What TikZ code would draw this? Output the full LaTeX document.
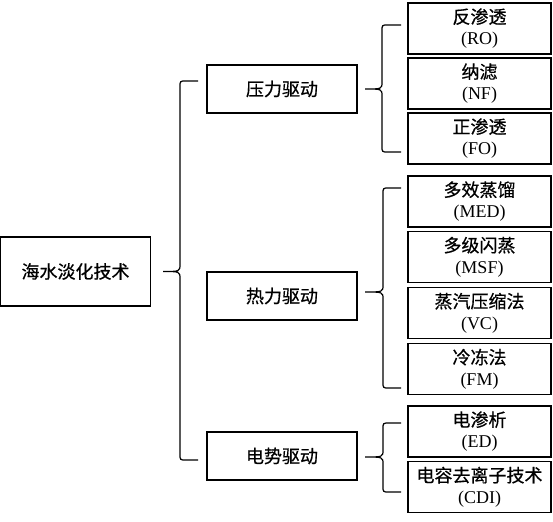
\documentclass[tikz,border=0pt]{standalone}
\usepackage{fontspec}
\setmainfont{Liberation Serif}
\newfontfamily\cjk[FakeBold=0.6]{Noto Sans CJK SC}
\tikzset{
  boxL/.style={draw, line width=1pt, minimum width=112.5pt, minimum height=51.75pt, inner sep=0pt, font=\fontsize{13.5}{16}\selectfont\cjk},
  boxM/.style={draw, line width=1pt, minimum width=112.5pt, minimum height=36pt, inner sep=0pt, font=\fontsize{13.5}{16}\selectfont\cjk},
  boxR/.style={draw, line width=1pt, minimum width=107.25pt, minimum height=38.25pt, inner sep=0pt, align=center, font=\fontsize{13.5}{16}\selectfont},
  brace/.style={line width=0.9pt}
}
\begin{document}
\begin{tikzpicture}[x=0.75pt, y=-0.75pt]
\useasboundingbox (0,0) rectangle (553,521);
\node[boxL] (root) at (75.5,271.5) {海水淡化技术};
\node[boxM] (p) at (282,89) {压力驱动};
\node[boxM] (h) at (282,296) {热力驱动};
\node[boxM] (e) at (282,456) {电势驱动};
\node[boxR] (ro) at (479.5,28.5) {{\cjk 反渗透}\\(RO)};
\node[boxR] (nf) at (479.5,83.5) {{\cjk 纳滤}\\(NF)};
\node[boxR] (fo) at (479.5,138.5) {{\cjk 正渗透}\\(FO)};
\node[boxR] (med) at (479.5,201.5) {{\cjk 多效蒸馏}\\(MED)};
\node[boxR] (msf) at (479.5,257) {{\cjk 多级闪蒸}\\(MSF)};
\node[boxR] (vc) at (479.5,313) {{\cjk 蒸汽压缩法}\\(VC)};
\node[boxR] (fm) at (479.5,369) {{\cjk 冷冻法}\\(FM)};
\node[boxR] (ed) at (479.5,431.5) {{\cjk 电渗析}\\(ED)};
\node[boxR] (cdi) at (479.5,487) {{\cjk 电容去离子技术}\\(CDI)};
% big brace
\draw[brace] (198,81) -- (186,81) .. controls (180,81) .. (180,87) -- (180,264) .. controls (180,271.5) .. (163,271.5)
  .. controls (180,271.5) .. (180,279) -- (180,454) .. controls (180,460) .. (186,460) -- (198,460);
% pressure brace
\draw[brace] (401,25) -- (388,25) .. controls (382,25) .. (382,31) -- (382,82) .. controls (382,89) .. (365,89)
  .. controls (382,89) .. (382,96) -- (382,146) .. controls (382,152) .. (388,152) -- (401,152);
% heat brace
\draw[brace] (401,188) -- (389,188) .. controls (383,188) .. (383,194) -- (383,285) .. controls (383,292) .. (365,292)
  .. controls (383,292) .. (383,299) -- (383,382) .. controls (383,388) .. (389,388) -- (401,388);
% electric brace
\draw[brace] (401,423) -- (389,423) .. controls (383,423) .. (383,429) -- (383,450) .. controls (383,457) .. (365,457)
  .. controls (383,457) .. (383,464) -- (383,486) .. controls (383,492) .. (389,492) -- (401,492);
\end{tikzpicture}
\end{document}
